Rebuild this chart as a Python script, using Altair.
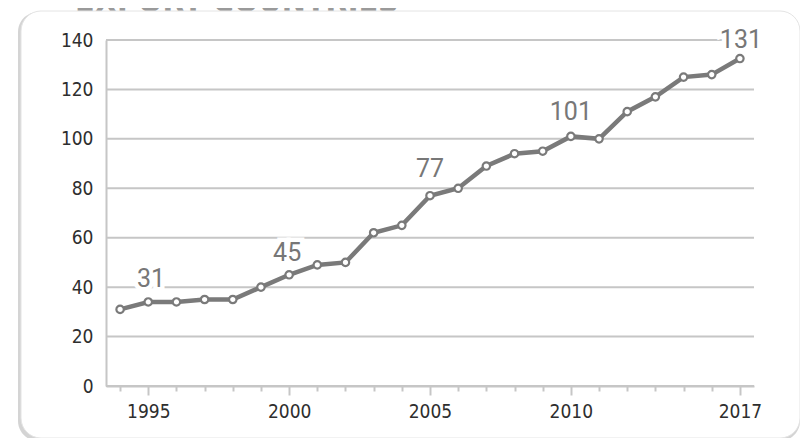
import altair as alt
import pandas as pd

years = [str(y) for y in range(1994, 2016)] + ["2017"]
values = [31, 34, 34, 35, 35, 40, 45, 49, 50, 62, 65, 77, 80, 89, 94, 95,
          101, 100, 111, 117, 125, 126, 132.5]
label_years = ["1994", "2000", "2005", "2010", "2017"]
label_texts = ["31", "45", "77", "101", "131"]
tick_label_years = ["1995", "2000", "2005", "2010", "2017"]
y_ticks = [0, 20, 40, 60, 80, 100, 120, 140]
title_text = "EXPORT COUNTRIES"

df = pd.DataFrame({"year": years, "value": values})
lab = pd.DataFrame({"year": label_years, "text": label_texts})
lab = lab.merge(df, on="year")
grid_df = pd.DataFrame({"value": y_ticks})

GRID = "#c6c6c6"
LINE = "#7a7a7a"
AXFONT = "DejaVu Sans Condensed, DejaVu Sans, sans-serif"
ANFONT = "Roboto, sans-serif"

major_list = "[" + ",".join("'%s'" % y for y in tick_label_years) + "]"

x_enc = alt.X(
    "year:O",
    sort=years,
    scale=alt.Scale(type="point", padding=0.5),
    axis=alt.Axis(
        title=None,
        grid=False,
        zindex=1,
        domainColor=GRID,
        domainWidth=2,
        tickColor=GRID,
        tickWidth=2,
        tickSize={"condition": {"test": "indexof(%s, datum.value) >= 0" % major_list, "value": 9}, "value": 5},
        labelExpr="indexof(%s, datum.label) >= 0 ? datum.label : ''" % major_list,
        labelAngle=0,
        labelFont=AXFONT,
        labelFontSize=19,
        labelColor="#2e2e2e",
        labelPadding=7,
    ),
)
y_enc = alt.Y(
    "value:Q",
    scale=alt.Scale(domain=[0, 140], nice=False, zero=True),
    axis=alt.Axis(
        title=None,
        values=y_ticks,
        grid=False,
        zindex=1,
        domain=True,
        domainColor=GRID,
        domainWidth=2,
        ticks=False,
        tickSize=0,
        labelFont=AXFONT,
        labelFontSize=19,
        labelColor="#2e2e2e",
        labelPadding=13,
    ),
)

one = alt.Data(values=[{}])

title_mark = alt.Chart(one).mark_text(
    text=title_text, font=AXFONT, fontSize=32, fontWeight="bold",
    color="#9a9a9a", align="left", baseline="alphabetic",
).encode(x=alt.value(-31), y=alt.value(-28))

shadow = alt.Chart(one).mark_rect(
    cornerRadius=20, fill="#cfcfcf", opacity=0.9
).encode(x=alt.value(-88), x2=alt.value(694), y=alt.value(-28), y2=alt.value(401))

frame = alt.Chart(one).mark_rect(
    cornerRadius=20, fill="white", stroke="#e4e4e4", strokeWidth=1
).encode(x=alt.value(-85), x2=alt.value(694), y=alt.value(-29), y2=alt.value(398))

gridlines = alt.Chart(grid_df).mark_rule(color=GRID, strokeWidth=2).encode(
    y=alt.Y("value:Q", scale=alt.Scale(domain=[0, 140], nice=False)),
    x=alt.value(0), x2=alt.value(648),
)

base = alt.Chart(df).encode(x=x_enc, y=y_enc)
line = base.mark_line(color=LINE, strokeWidth=4.5)
pts = base.mark_point(filled=True, fill="white", stroke=LINE, strokeWidth=2.2, size=55, opacity=1)

offsets = {"31": (31, -30), "45": (-2, -22), "77": (0, -27), "101": (0, -24), "131": (1, -19)}
ann_layers = []
for t in label_texts:
    dx, dy = offsets[t]
    b = alt.Chart(lab).transform_filter(alt.datum.text == t).encode(
        x=alt.X("year:O", sort=years), y="value:Q", text="text:N")
    ann_layers.append(b.mark_text(font=ANFONT, fontSize=25, stroke="white", strokeWidth=9,
                                  color="white", dx=dx, dy=dy, baseline="middle", align="center"))
    ann_layers.append(b.mark_text(font=ANFONT, fontSize=25, color="#777777",
                                  dx=dx, dy=dy, baseline="middle", align="center"))

chart = alt.layer(title_mark, shadow, frame, gridlines, line, pts, *ann_layers).properties(
    width=648, height=346,
    padding={"left": 98, "top": 32, "right": 46, "bottom": 52},
    autosize="none",
).configure_view(stroke=None).configure(background="white")

chart.save("out.html", embed_options={"renderer": "svg", "actions": False})
